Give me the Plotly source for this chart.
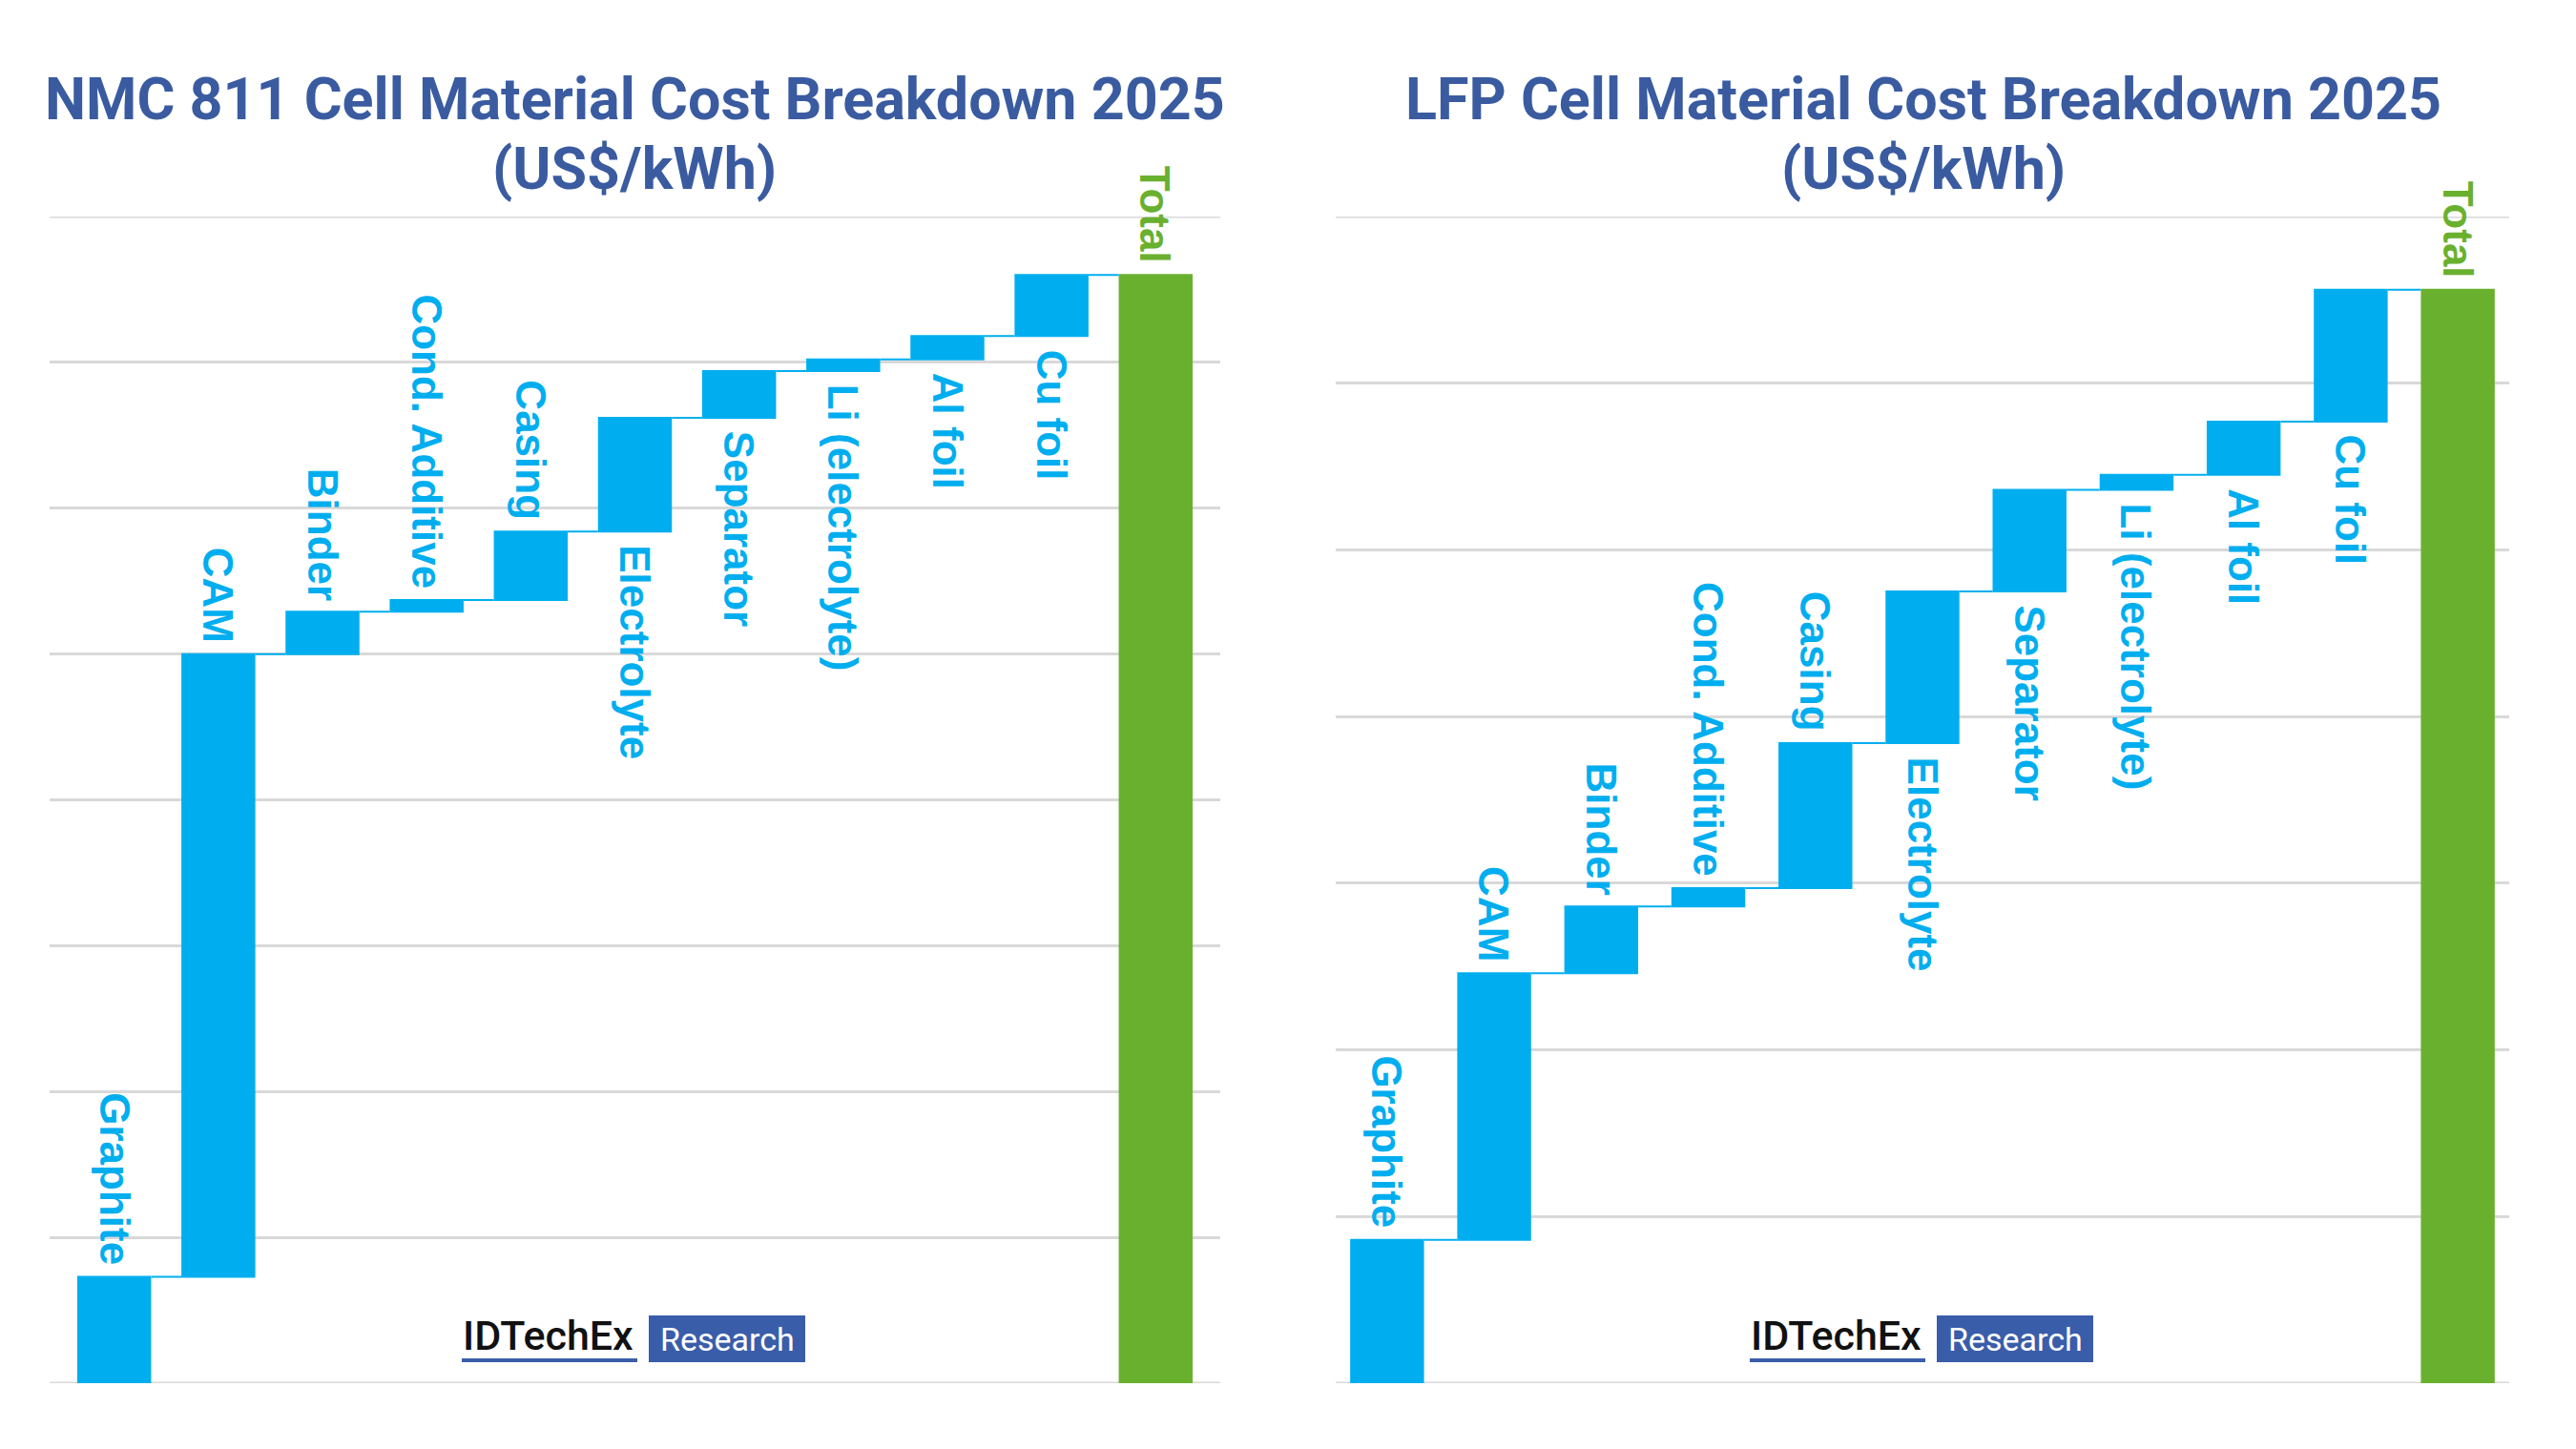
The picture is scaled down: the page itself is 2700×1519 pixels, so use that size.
import plotly.graph_objects as go

# ---------------- data ----------------
categories = ["Graphite", "CAM", "Binder", "Cond. Additive", "Casing", "Electrolyte",
              "Separator", "Li (electrolyte)", "Al foil", "Cu foil", "Total"]
nmc_values = [7.3, 42.7, 2.9, 0.8, 4.7, 7.8, 3.2, 0.8, 1.6, 4.2]
lfp_values = [8.6, 16.0, 4.0, 1.1, 8.7, 9.1, 6.1, 0.9, 3.2, 7.9]
label_above = [True, True, True, True, True, False, False, False, False, False, True]
titles = ["NMC 811 Cell Material Cost Breakdown 2025", "LFP Cell Material Cost Breakdown 2025"]
subtitle = "(US$/kWh)"

BLUE = "#00AEEF"
GREEN = "#6AB02F"
TITLE_BLUE = "#3A5BA0"
LOGO_BLUE = "#3A5DAA"
GRID = "#D9D9D9"

W, H = 2700, 1519


def px_x(p):
    return p / W


def px_y(p):
    return 1 - p / H


fig = go.Figure()

panels = [
    dict(vals=nmc_values, xa="x", ya="y", dom=[px_x(52), px_x(1279)], yr=[0, 80],
         xr=[-0.62, 10.62], bw=0.71, tx=665, logo_dx=0),
    dict(vals=lfp_values, xa="x2", ya="y2", dom=[px_x(1400), px_x(2630)], yr=[0, 70],
         xr=[-0.48, 10.48], bw=0.69, tx=2016, logo_dx=1350),
]

annotations = []
shapes = []
ydom = [px_y(1450), px_y(227)]
LABEL_FONT = "Liberation Sans, Arial, sans-serif"

for i, p in enumerate(panels):
    vals = p["vals"]
    # edge gridlines (plotly hides grid lines lying on the plot-area border)
    for lvl in p["yr"]:
        shapes.append(dict(type="line", xref=p["xa"] + " domain", yref=p["ya"],
                           x0=0, x1=1, y0=lvl, y1=lvl, layer="below",
                           line=dict(color=GRID, width=3)))
    fig.add_trace(go.Waterfall(
        x=categories,
        y=vals + [0],
        measure=["relative"] * len(vals) + ["total"],
        xaxis=p["xa"], yaxis=p["ya"],
        width=[p["bw"]] * len(categories),
        increasing=dict(marker=dict(color=BLUE, line=dict(width=0))),
        totals=dict(marker=dict(color=GREEN, line=dict(width=0))),
        connector=dict(line=dict(color=BLUE, width=2), mode="between"),
        textinfo="none",
        hoverinfo="x+y",
        showlegend=False,
    ))
    # cumulative levels for labels
    cum = 0
    starts, ends = [], []
    for v in vals:
        starts.append(cum)
        cum += v
        ends.append(cum)
    starts.append(0)
    ends.append(cum)
    for k, cat in enumerate(categories):
        color = GREEN if cat == "Total" else BLUE
        if label_above[k]:
            annotations.append(dict(
                x=cat, y=ends[k], xref=p["xa"], yref=p["ya"], text="<b>" + cat + "</b>",
                showarrow=False, textangle=90, xanchor="center", yanchor="bottom", yshift=10,
                font=dict(family=LABEL_FONT, size=44, color=color)))
        else:
            annotations.append(dict(
                x=cat, y=starts[k], xref=p["xa"], yref=p["ya"], text="<b>" + cat + "</b>",
                showarrow=False, textangle=90, xanchor="center", yanchor="top", yshift=-12,
                font=dict(family=LABEL_FONT, size=44, color=color)))

    # titles
    annotations.append(dict(x=px_x(p["tx"]), y=px_y(104), xref="paper", yref="paper",
                            text="<b>" + titles[i] + "</b>", showarrow=False,
                            xanchor="center", yanchor="middle",
                            font=dict(family="Roboto", size=61, color=TITLE_BLUE)))
    annotations.append(dict(x=px_x(p["tx"]), y=px_y(177), xref="paper", yref="paper",
                            text="<b>" + subtitle + "</b>", showarrow=False,
                            xanchor="center", yanchor="middle",
                            font=dict(family="Roboto", size=61, color=TITLE_BLUE)))

    # logo
    dx = p["logo_dx"]
    annotations.append(dict(x=px_x(574 + dx), y=px_y(1400), xref="paper", yref="paper",
                            text="IDTechEx", showarrow=False, xanchor="center", yanchor="middle",
                            font=dict(family="Roboto", size=43, color="#111111", weight=500)))
    shapes.append(dict(type="line", xref="paper", yref="paper",
                       x0=px_x(484 + dx), x1=px_x(668 + dx), y0=px_y(1426), y1=px_y(1426),
                       line=dict(color=LOGO_BLUE, width=4)))
    shapes.append(dict(type="rect", xref="paper", yref="paper",
                       x0=px_x(680 + dx), x1=px_x(844 + dx), y0=px_y(1428), y1=px_y(1379),
                       fillcolor=LOGO_BLUE, line=dict(width=0)))
    annotations.append(dict(x=px_x(762 + dx), y=px_y(1404), xref="paper", yref="paper",
                            text="Research", showarrow=False, xanchor="center", yanchor="middle",
                            font=dict(family="Roboto", size=34, color="white")))

axis_common_x = dict(showticklabels=False, showgrid=False, zeroline=False, showline=False,
                     ticks="", type="category", fixedrange=True)
axis_common_y = dict(showticklabels=False, showgrid=True, gridcolor=GRID, gridwidth=3,
                     zeroline=False, showline=False, ticks="", dtick=10, fixedrange=True)

fig.update_layout(
    width=W, height=H,
    margin=dict(l=0, r=0, t=0, b=0),
    paper_bgcolor="white", plot_bgcolor="white",
    xaxis=dict(domain=panels[0]["dom"], range=panels[0]["xr"], anchor="y", **axis_common_x),
    yaxis=dict(domain=ydom, range=panels[0]["yr"], anchor="x", **axis_common_y),
    xaxis2=dict(domain=panels[1]["dom"], range=panels[1]["xr"], anchor="y2", **axis_common_x),
    yaxis2=dict(domain=ydom, range=panels[1]["yr"], anchor="x2", **axis_common_y),
    annotations=annotations,
    shapes=shapes,
    waterfallgap=0.3,
)

fig.write_html("out.html")
